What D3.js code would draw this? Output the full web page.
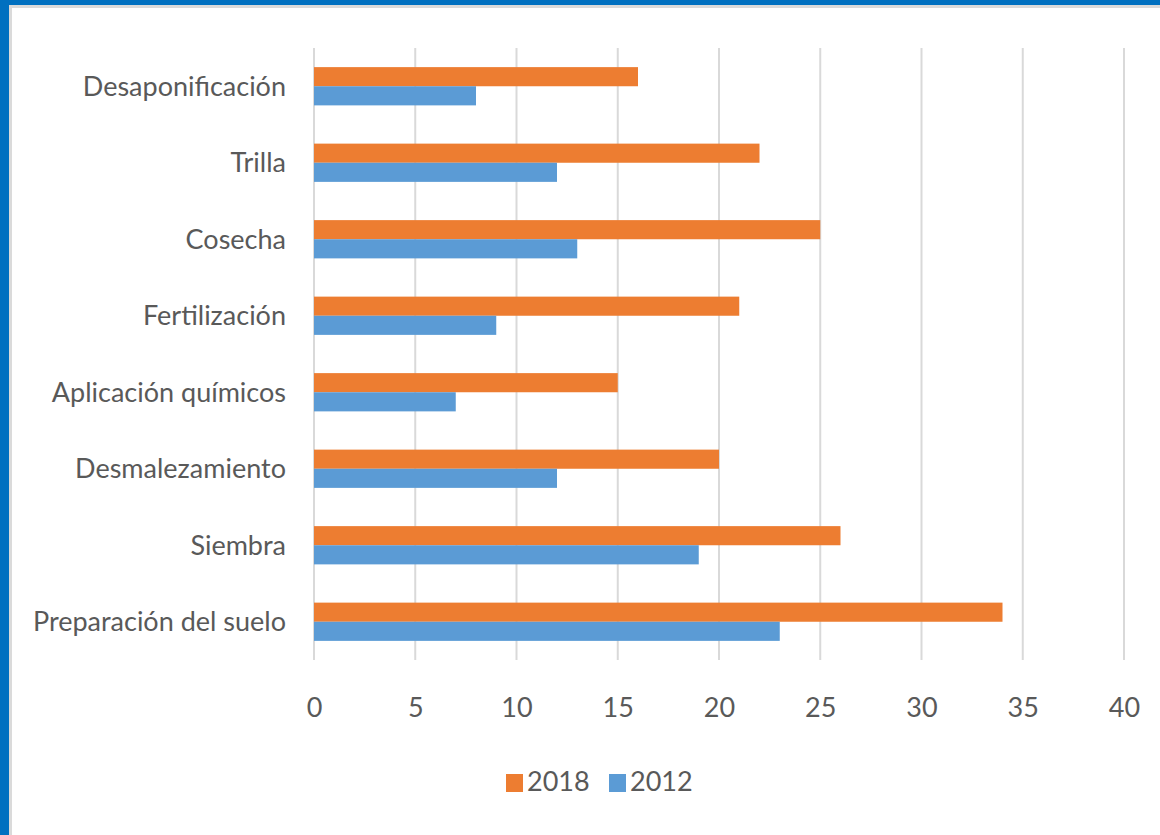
<!DOCTYPE html>
<html><head><meta charset="utf-8">
<script src="https://cdn.jsdelivr.net/npm/d3@7"></script>
<style>
html,body{margin:0;padding:0;background:#fff;}
svg{display:block;}
</style></head>
<body>
<svg id="c" width="1160" height="835"></svg>
<script>
const categories = ["Desaponificación","Trilla","Cosecha","Fertilización","Aplicación químicos","Desmalezamiento","Siembra","Preparación del suelo"];
const seriesNames = ["2018","2012"];
const values2018 = [16,22,25,21,15,20,26,34];
const values2012 = [8,12,13,9,7,12,19,23];
const xTicks = [0,5,10,15,20,25,30,35,40];
const colors = ["#ED7D31","#5B9BD5"];

const svg = d3.select("#c");
const FONT = "Lato, sans-serif";
const FS = 27;

// frame
svg.append("rect").attr("x",0).attr("y",0).attr("width",1160).attr("height",835).attr("fill","#0070C0");
svg.append("rect").attr("x",9).attr("y",5).attr("width",1151).attr("height",830).attr("fill","#DADADA");
svg.append("rect").attr("x",12).attr("y",8).attr("width",1148).attr("height",827).attr("fill","#fff");

const x = d3.scaleLinear().domain([0,40]).range([314,1124]);
const y = d3.scaleBand().domain(categories).range([48,660]).paddingInner(0.5).paddingOuter(0.25);
const ys = d3.scaleBand().domain(seriesNames).range([0,y.bandwidth()]);

// gridlines
svg.append("g").selectAll("line").data(xTicks).join("line")
  .attr("x1",d=>x(d)).attr("x2",d=>x(d)).attr("y1",48).attr("y2",660)
  .attr("stroke","#D9D9D9").attr("stroke-width",2);

// bars
const data = categories.map((c,i)=>({c, v:[values2018[i],values2012[i]]}));
const g = svg.append("g");
data.forEach(d=>{
  seriesNames.forEach((s,j)=>{
    g.append("rect").attr("x",x(0)).attr("y",y(d.c)+ys(s))
      .attr("width",x(d.v[j])-x(0)).attr("height",ys.bandwidth())
      .attr("fill",colors[j]);
  });
});

// x axis labels
const xAxis = d3.axisBottom(x).tickValues(xTicks).tickSize(0).tickPadding(0);
const xa = svg.append("g").attr("transform","translate(0,717)").call(xAxis);
xa.select(".domain").remove();
xa.selectAll("text").attr("font-family",FONT).attr("font-size",FS).attr("fill","#595959").attr("dy",0);

// y axis labels
const yAxis = d3.axisLeft(y).tickSize(0).tickPadding(28);
const ya = svg.append("g").attr("transform",`translate(${x(0)},0)`).call(yAxis);
ya.select(".domain").remove();
ya.selectAll("text").attr("font-family",FONT).attr("font-size",FS).attr("fill","#595959").attr("dy","0.35em");

// legend
const leg = svg.append("g");
const legX = [506,609];
seriesNames.forEach((s,j)=>{
  leg.append("rect").attr("x",legX[j]).attr("y",774).attr("width",17).attr("height",18).attr("fill",colors[j]);
  leg.append("text").attr("x",legX[j]+21).attr("y",791).text(s)
    .attr("font-family",FONT).attr("font-size",FS).attr("fill","#595959");
});
</script>
</body></html>
